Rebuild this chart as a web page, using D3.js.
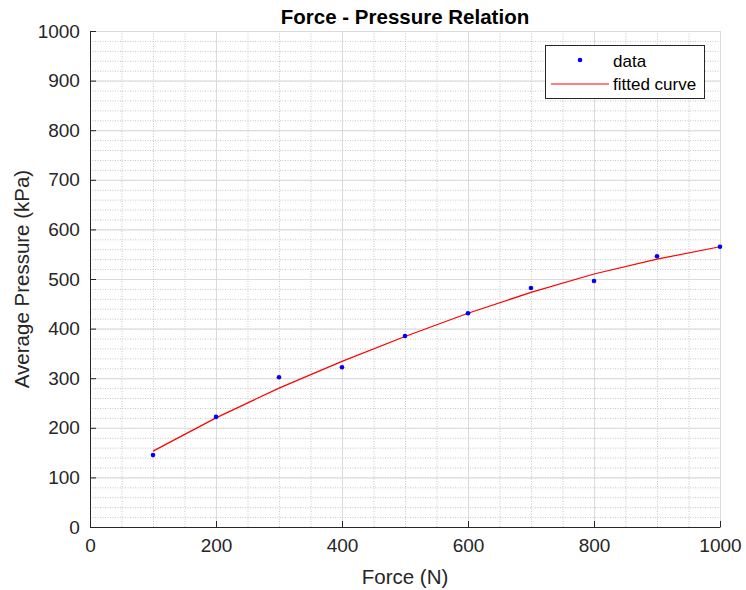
<!DOCTYPE html>
<html>
<head>
<meta charset="utf-8">
<script src="https://cdn.jsdelivr.net/npm/d3@7"></script>
<style>
  body { margin: 0; background: #fff; }
  text { font-family: "Liberation Sans", Arial, Helvetica, sans-serif; fill: #262626; }
</style>
</head>
<body>
<div id="chart"></div>
<script>
// measured force (N) and average pressure (kPa)
const force = [100, 200, 300, 400, 500, 600, 700, 800, 900, 1000];
const pressure = [145, 222, 302, 322, 385, 431, 482, 496, 546, 565];
// fitted curve evaluated at the same forces
const fitted = [153, 220, 280, 334, 384, 431, 473, 510, 540, 565];

const xTicks = [0, 200, 400, 600, 800, 1000];
const yTicks = [0, 100, 200, 300, 400, 500, 600, 700, 800, 900, 1000];
const xMinor = d3.range(0, 1001, 50);
const yMinor = d3.range(0, 1001, 20);

const margin = { top: 31, right: 26, bottom: 63, left: 90 },
  width = 746 - margin.left - margin.right,
  height = 590 - margin.top - margin.bottom;

const svg = d3.select("#chart").append("svg")
  .attr("width", 746)
  .attr("height", 590);

const g = svg.append("g")
  .attr("transform", "translate(" + margin.left + "," + margin.top + ")");

const x = d3.scaleLinear().domain([0, 1000]).range([0, width]);
const y = d3.scaleLinear().domain([0, 1000]).range([height, 0]);

// minor grid (dotted)
g.selectAll(".xminor").data(xMinor).enter().append("line")
  .attr("x1", d => x(d) + 0.5).attr("x2", d => x(d) + 0.5)
  .attr("y1", 0).attr("y2", height)
  .attr("stroke", "#c6c6c6").attr("stroke-width", 1)
  .attr("stroke-dasharray", "1,1.5");
g.selectAll(".yminor").data(yMinor).enter().append("line")
  .attr("y1", d => y(d) + 0.5).attr("y2", d => y(d) + 0.5)
  .attr("x1", 0).attr("x2", width)
  .attr("stroke", "#c6c6c6").attr("stroke-width", 1)
  .attr("stroke-dasharray", "1,1.5");

// major grid (solid)
g.selectAll(".xmajor").data(xTicks).enter().append("line")
  .attr("x1", d => x(d) + 0.5).attr("x2", d => x(d) + 0.5)
  .attr("y1", 0).attr("y2", height)
  .attr("stroke", "#dadada").attr("stroke-width", 1);
g.selectAll(".ymajor").data(yTicks).enter().append("line")
  .attr("y1", d => y(d) + 0.5).attr("y2", d => y(d) + 0.5)
  .attr("x1", 0).attr("x2", width)
  .attr("stroke", "#dadada").attr("stroke-width", 1);

// axes, ticks pointing inward
const xAxis = d3.axisBottom(x).tickValues(xTicks).tickFormat(d3.format("d"))
  .tickSizeInner(-6).tickSizeOuter(0).tickPadding(12);
const yAxis = d3.axisLeft(y).tickValues(yTicks).tickFormat(d3.format("d"))
  .tickSizeInner(-6).tickSizeOuter(0).tickPadding(12);

g.append("g")
  .attr("transform", "translate(0," + height + ")")
  .call(xAxis)
  .call(s => s.selectAll("text").style("font-size", "19px").attr("fill", "#262626"))
  .call(s => s.selectAll("line, path").attr("stroke", "#262626"));

g.append("g")
  .call(yAxis)
  .call(s => s.selectAll("text").style("font-size", "19px").attr("fill", "#262626").attr("dx", "0.1em"))
  .call(s => s.selectAll("line, path").attr("stroke", "#262626"));

// fitted curve
const line = d3.line()
  .x((d, i) => x(force[i]))
  .y(d => y(d));

g.append("path")
  .datum(fitted)
  .attr("fill", "none")
  .attr("stroke", "#ff0000")
  .attr("stroke-width", 1.2)
  .attr("d", line);

// data points
g.selectAll(".dot")
  .data(pressure)
  .enter().append("circle")
  .attr("r", 2.3)
  .attr("cx", (d, i) => x(force[i]))
  .attr("cy", d => y(d))
  .attr("fill", "#0000ff");

// title and labels
svg.append("text")
  .attr("x", margin.left + width / 2)
  .attr("y", 24)
  .attr("text-anchor", "middle")
  .style("font-size", "20.5px")
  .style("font-weight", "bold")
  .style("fill", "#000")
  .text("Force - Pressure Relation");

svg.append("text")
  .attr("x", margin.left + width / 2)
  .attr("y", 584)
  .attr("text-anchor", "middle")
  .style("font-size", "20.5px")
  .text("Force (N)");

svg.append("text")
  .attr("transform", "translate(29," + (margin.top + height / 2) + ") rotate(-90)")
  .attr("text-anchor", "middle")
  .style("font-size", "20.5px")
  .text("Average Pressure (kPa)");

// legend
const legend = svg.append("g");
legend.append("rect")
  .attr("x", 545.5).attr("y", 45.5)
  .attr("width", 159).attr("height", 53)
  .attr("fill", "#fff")
  .attr("stroke", "#262626")
  .attr("stroke-width", 1);
legend.append("circle")
  .attr("cx", 580).attr("cy", 60).attr("r", 2.3)
  .attr("fill", "#0000ff");
legend.append("line")
  .attr("x1", 551).attr("x2", 609)
  .attr("y1", 84).attr("y2", 84)
  .attr("stroke", "#ff0000").attr("stroke-width", 1.2);
legend.append("text")
  .attr("x", 613).attr("y", 67)
  .style("font-size", "17px")
  .style("fill", "#000")
  .text("data");
legend.append("text")
  .attr("x", 613).attr("y", 90)
  .style("font-size", "17px")
  .style("fill", "#000")
  .text("fitted curve");
</script>
</body>
</html>
